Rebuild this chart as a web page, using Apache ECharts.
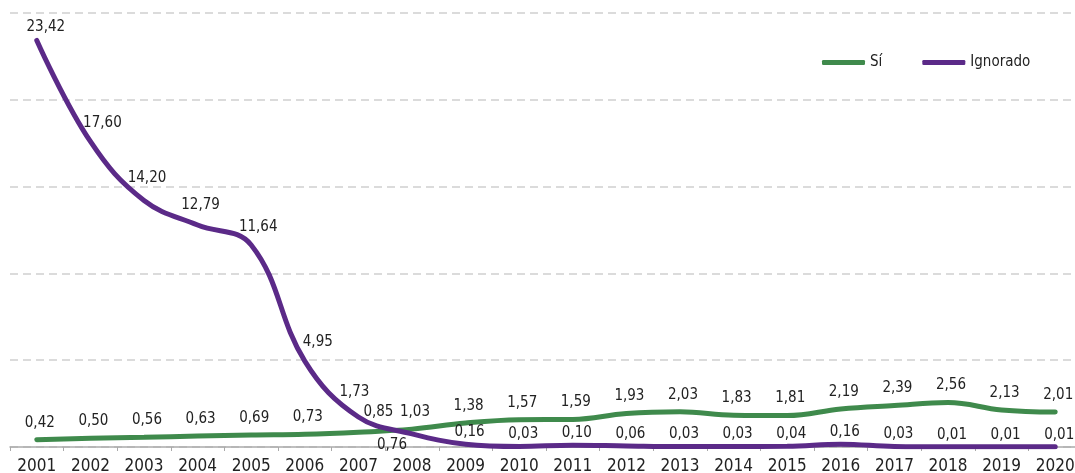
<!DOCTYPE html>
<html>
<head>
<meta charset="utf-8">
<script src="https://cdn.jsdelivr.net/npm/echarts@6/dist/echarts.min.js"></script>
<style>
  html, body { margin: 0; padding: 0; background: #fff; }
  #chart { width: 1075px; height: 473px; }
</style>
</head>
<body>
<div id="chart"></div>
<script>
// datos
const years = ['2001','2002','2003','2004','2005','2006','2007','2008','2009','2010',
               '2011','2012','2013','2014','2015','2016','2017','2018','2019','2020']
const si = [0.42, 0.50, 0.56, 0.63, 0.69, 0.73, 0.85, 1.03, 1.38, 1.57,
            1.59, 1.93, 2.03, 1.83, 1.81, 2.19, 2.39, 2.56, 2.13, 2.01]
const ignorado = [23.42, 17.60, 14.20, 12.79, 11.64, 4.95, 1.73, 0.76, 0.16, 0.03,
                  0.10, 0.06, 0.03, 0.03, 0.04, 0.16, 0.03, 0.01, 0.01, 0.01]

const FONT = "'Liberation Sans Narrow', 'DejaVu Sans Condensed', sans-serif"
const fmt = v => v.toFixed(2).replace('.', ',')

// desplazamiento de las etiquetas respecto al punto (centro de la etiqueta)
const siOffsets = {6: [20, -20]}
const ignOffsets = {
  0: [9, -13], 1: [12, -18], 2: [3, -22], 3: [3, -20], 4: [7, -18],
  5: [13, -19], 6: [-4, -25], 7: [-20, 11]
}

const buildData = (values, offsets, defOffset) => values.map((v, i) => ({
  value: v,
  label: { offset: offsets[i] || defOffset }
}))

const chart = echarts.init(document.getElementById('chart'))
chart.setOption({
  animation: false,
  textStyle: { fontFamily: FONT },
  grid: { left: 10, top: 13, width: 1072, bottom: 26, outerBoundsMode: 'none', containLabel: false },
  legend: {
    left: 822, top: 55, padding: 0,
    itemWidth: 43, itemHeight: 5, itemGap: 40,
    icon: 'roundRect',
    textStyle: { fontFamily: FONT, fontSize: 15, color: '#222' },
    data: ['Sí', 'Ignorado']
  },
  xAxis: {
    type: 'category',
    data: years,
    boundaryGap: true,
    axisLine: { lineStyle: { color: '#aaa', width: 1.5 } },
    axisTick: { show: true, length: 4, lineStyle: { color: '#aaa' } },
    axisLabel: { fontFamily: FONT, fontSize: 17, color: '#222', margin: 11 }
  },
  yAxis: {
    type: 'value',
    min: 0, max: 25, interval: 5,
    axisLabel: { show: false },
    axisLine: { show: false },
    axisTick: { show: false },
    splitLine: { lineStyle: { color: '#d0d0d0', type: [8, 5], width: 1.5 } }
  },
  series: [
    {
      name: 'Sí',
      type: 'line',
      smooth: 0.4,
      data: buildData(si, siOffsets, [3, -17]),
      symbol: 'circle', symbolSize: 1,
      itemStyle: { color: '#3f8a4c' },
      lineStyle: { width: 5, color: '#3f8a4c', cap: 'round' },
      label: {
        show: true, position: 'inside', color: '#222',
        textBorderWidth: 0, fontFamily: FONT, fontSize: 15,
        formatter: p => fmt(p.value)
      },
      z: 2
    },
    {
      name: 'Ignorado',
      type: 'line',
      smooth: 0.4,
      data: buildData(ignorado, ignOffsets, [4, -12]),
      symbol: 'circle', symbolSize: 1,
      itemStyle: { color: '#5b2a88' },
      lineStyle: { width: 5, color: '#5b2a88', cap: 'round' },
      label: {
        show: true, position: 'inside', color: '#222',
        textBorderWidth: 0, fontFamily: FONT, fontSize: 15,
        formatter: p => fmt(p.value)
      },
      z: 3
    }
  ]
})
</script>
</body>
</html>
